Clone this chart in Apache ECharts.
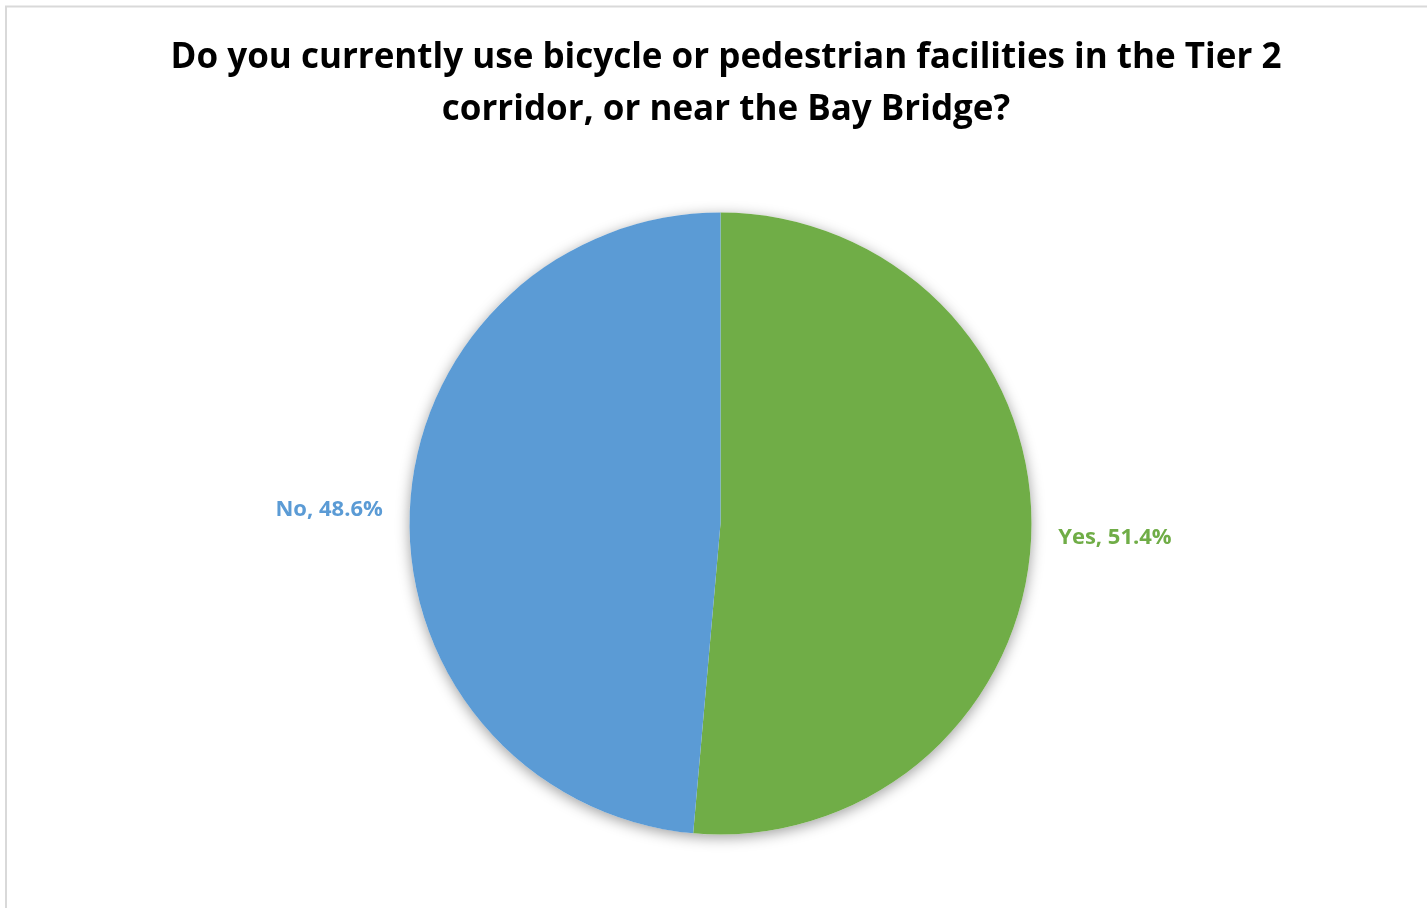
<!DOCTYPE html>
<html>
<head>
<meta charset="utf-8">
<script src="https://cdn.jsdelivr.net/npm/echarts@6/dist/echarts.min.js"></script>
<style>
  html, body { margin: 0; padding: 0; background: #ffffff; }
  #chart { width: 1427px; height: 908px; }
</style>
</head>
<body>
<div id="chart"></div>
<script>
// Survey answers and their shares (percent)
const categories = ['Yes', 'No'];
const shares = [51.4, 48.6];
const sliceColors = ['#70ad47', '#5b9bd5'];

const titleText = 'Do you currently use bicycle or pedestrian facilities in the Tier 2\ncorridor, or near the Bay Bridge?';

const chart = echarts.init(document.getElementById('chart'), null, { renderer: 'canvas' });

const pieData = categories.map((name, i) => ({
  name: name,
  value: shares[i],
  itemStyle: { color: sliceColors[i] },
  label: { color: sliceColors[i] }
}));

const total = shares.reduce((a, b) => a + b, 0);

const center = [720.5, 523.5];
const radius = 311;

chart.setOption({
  animation: false,
  graphic: [{
    type: 'rect',
    shape: { x: 6, y: 6.5, width: 1440, height: 940 },
    style: { fill: 'none', stroke: '#d9d9d9', lineWidth: 2 },
    silent: true
  }],
  title: {
    text: titleText,
    left: 721,
    textAlign: 'center',
    top: 27,
    textStyle: {
      fontFamily: 'Open Sans',
      fontWeight: 'bold',
      fontSize: 35,
      lineHeight: 52,
      color: '#000000'
    }
  },
  series: [
    {
      // soft drop shadow under the whole disc
      type: 'pie',
      center: center,
      radius: radius,
      silent: true,
      z: 1,
      label: { show: false },
      labelLine: { show: false },
      data: [{ value: total, itemStyle: { color: '#ffffff', shadowBlur: 14, shadowColor: 'rgba(0,0,0,0.38)', shadowOffsetY: 3 } }]
    },
    {
      type: 'pie',
      center: center,
      radius: radius,
      startAngle: 90,
      clockwise: true,
      z: 2,
      itemStyle: { borderWidth: 0 },
      label: {
        show: true,
        position: 'outside',
        formatter: '{b}, {d}%',
        fontFamily: 'Open Sans',
        fontWeight: 'bold',
        fontSize: 22
      },
      labelLine: { show: false, length: 3, length2: 19 },
      data: pieData
    }
  ]
});
</script>
</body>
</html>
